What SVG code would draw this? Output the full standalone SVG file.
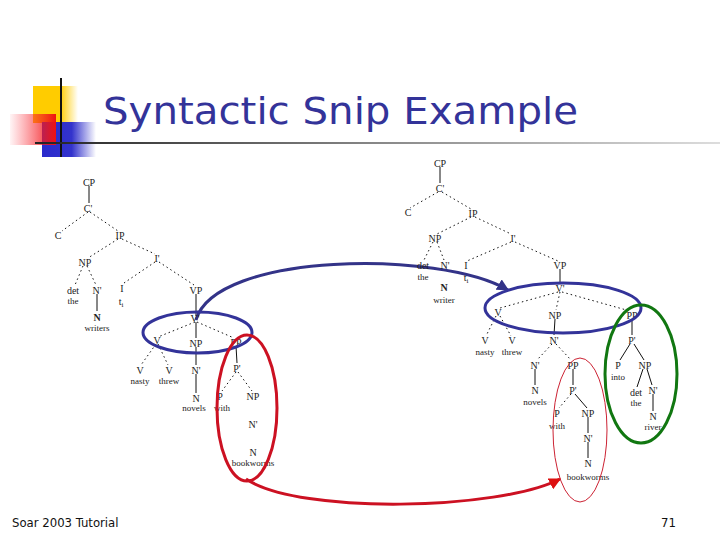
<svg xmlns="http://www.w3.org/2000/svg" width="720" height="540" viewBox="0 0 720 540">
<defs>
<linearGradient id="gy" x1="0" y1="0" x2="1" y2="0"><stop offset="0" stop-color="#ffcc00"/><stop offset="0.6" stop-color="#ffcc00"/><stop offset="1" stop-color="#ffcc00" stop-opacity="0"/></linearGradient>
<linearGradient id="gr" x1="0" y1="0" x2="1" y2="0"><stop offset="0" stop-color="#ff3344" stop-opacity="0.05"/><stop offset="1" stop-color="#ee1111"/></linearGradient>
<linearGradient id="gb" x1="0" y1="0" x2="1" y2="0"><stop offset="0" stop-color="#2a2acc"/><stop offset="0.55" stop-color="#3333cc"/><stop offset="1" stop-color="#3333cc" stop-opacity="0"/></linearGradient>
<linearGradient id="gl" x1="0" y1="0" x2="1" y2="0"><stop offset="0" stop-color="#222222"/><stop offset="0.5" stop-color="#888888"/><stop offset="1" stop-color="#dddddd"/></linearGradient>
<marker id="ab" viewBox="0 0 10 10" refX="9" refY="5" markerWidth="4" markerHeight="4" orient="auto"><path d="M0,0 L10,5 L0,10 z" fill="#333388"/></marker>
<marker id="ar" viewBox="0 0 10 10" refX="9" refY="5" markerWidth="4" markerHeight="4" orient="auto"><path d="M0,0 L10,5 L0,10 z" fill="#dd1111"/></marker>
</defs>
<style>
.t{font-family:"Liberation Serif",serif;font-size:10px;text-anchor:middle;fill:#222}
.w{font-family:"Liberation Serif",serif;font-size:9px;text-anchor:middle;fill:#222}
.b{font-weight:bold}
.s{stroke:#111;stroke-width:1;fill:none}
.d{stroke:#111;stroke-width:1;fill:none;stroke-dasharray:1.5,3}
</style>
<rect width="720" height="540" fill="#ffffff"/>
<g id="deco">
<rect x="33" y="86" width="45" height="37" fill="url(#gy)"/>
<rect x="42" y="122" width="54" height="35" fill="url(#gb)"/>
<rect x="10" y="114" width="46" height="31" fill="url(#gr)"/>
<line x1="61" y1="78" x2="61" y2="157" stroke="#111" stroke-width="2"/>
<rect x="35" y="142" width="685" height="2" fill="url(#gl)"/>
</g>
<text id="title" x="103" y="124" font-family="DejaVu Sans, sans-serif" font-size="38" fill="#333399" textLength="475" lengthAdjust="spacingAndGlyphs">Syntactic Snip Example</text>
<g id="connectors">
<line class="s" x1="89" y1="186" x2="89" y2="203"/>
<line class="d" x1="88" y1="212" x2="62" y2="231"/>
<line class="d" x1="90" y1="212" x2="118" y2="231"/>
<line class="d" x1="118" y1="239" x2="88" y2="258"/>
<line class="d" x1="122" y1="239" x2="155" y2="254"/>
<line class="d" x1="83" y1="266" x2="75" y2="285"/>
<line class="d" x1="87" y1="266" x2="96" y2="285"/>
<line class="s" x1="97" y1="294" x2="97" y2="311"/>
<line class="d" x1="155" y1="262" x2="124" y2="283"/>
<line class="d" x1="159" y1="262" x2="194" y2="285"/>
<line class="s" x1="196" y1="294" x2="196" y2="316"/>
<line class="d" x1="195" y1="322" x2="158" y2="337"/>
<line class="s" x1="196" y1="322" x2="196" y2="338"/>
<line class="d" x1="197" y1="322" x2="234" y2="338"/>
<line class="d" x1="156" y1="344" x2="141" y2="365"/>
<line class="d" x1="158" y1="344" x2="168" y2="365"/>
<line class="s" x1="196" y1="347" x2="196" y2="365"/>
<line class="s" x1="196" y1="374" x2="196" y2="393"/>
<line class="s" x1="236" y1="346" x2="237" y2="363"/>
<line class="d" x1="236" y1="372" x2="222" y2="391"/>
<line class="d" x1="238" y1="372" x2="252" y2="391"/>
<line class="s" x1="440" y1="167" x2="440" y2="183"/>
<line class="d" x1="438" y1="192" x2="410" y2="208"/>
<line class="d" x1="442" y1="192" x2="471" y2="209"/>
<line class="d" x1="471" y1="217" x2="437" y2="234"/>
<line class="d" x1="475" y1="217" x2="511" y2="234"/>
<line class="d" x1="433" y1="242" x2="424" y2="260"/>
<line class="d" x1="437" y1="242" x2="444" y2="260"/>
<line class="d" x1="511" y1="242" x2="467" y2="261"/>
<line class="d" x1="515" y1="242" x2="558" y2="261"/>
<line class="s" x1="560" y1="269" x2="560" y2="284"/>
<line class="d" x1="558" y1="292" x2="500" y2="308"/>
<line class="d" x1="560" y1="292" x2="556" y2="310"/>
<line class="d" x1="562" y1="292" x2="630" y2="311"/>
<line class="d" x1="496" y1="316" x2="486" y2="336"/>
<line class="d" x1="500" y1="316" x2="511" y2="336"/>
<line class="s" x1="555" y1="319" x2="554" y2="335"/>
<line class="d" x1="552" y1="344" x2="537" y2="360"/>
<line class="d" x1="556" y1="344" x2="571" y2="360"/>
<line class="s" x1="535" y1="369" x2="535" y2="385"/>
<line class="s" x1="573" y1="369" x2="573" y2="385"/>
<line class="d" x1="571" y1="394" x2="559" y2="408"/>
<line class="s" x1="575" y1="394" x2="587" y2="408"/>
<line class="s" x1="588" y1="417" x2="588" y2="433"/>
<line class="s" x1="588" y1="442" x2="588" y2="458"/>
<line class="s" x1="632" y1="319" x2="632" y2="335"/>
<line class="s" x1="630" y1="344" x2="620" y2="360"/>
<line class="s" x1="634" y1="344" x2="644" y2="360"/>
<line class="s" x1="643" y1="369" x2="637" y2="387"/>
<line class="s" x1="647" y1="369" x2="652" y2="385"/>
<line class="s" x1="653" y1="394" x2="653" y2="411"/>
<path d="M196,320 C215,252 440,250 508,290" fill="none" stroke="#333388" stroke-width="3" marker-end="url(#ab)"/>
<path d="M246,479 C300,515 500,510 560,479" fill="none" stroke="#cc1122" stroke-width="3" marker-end="url(#ar)"/>
</g>
<g id="left-tree">
<text class="t" x="89" y="186">CP</text>
<text class="t" x="88" y="212">C'</text>
<text class="t" x="58" y="239">C</text>
<text class="t" x="120" y="239">IP</text>
<text class="t" x="85" y="266">NP</text>
<text class="t" x="157" y="262">I'</text>
<text class="t" x="73" y="294">det</text>
<text class="w" x="73" y="304">the</text>
<text class="t" x="97" y="294">N'</text>
<text class="t b" x="97" y="321">N</text>
<text class="w" x="97" y="331">writers</text>
<text class="t" x="122" y="292">I</text>
<text class="t" x="121" y="305">t<tspan font-size="7" dy="2">i</tspan></text>
<text class="t" x="196" y="294">VP</text>
<text class="t" x="195" y="322">V'</text>
<text class="t" x="157" y="344">V</text>
<text class="t" x="196" y="347">NP</text>
<text class="t" x="236" y="346">PP</text>
<text class="t" x="140" y="374">V</text>
<text class="w" x="140" y="384">nasty</text>
<text class="t" x="169" y="374">V</text>
<text class="w" x="169" y="384">threw</text>
<text class="t" x="196" y="374">N'</text>
<text class="t" x="196" y="402">N</text>
<text class="w" x="194" y="411">novels</text>
<text class="t" x="237" y="372">P'</text>
<text class="t" x="220" y="400">P</text>
<text class="w" x="222" y="411">with</text>
<text class="t" x="253" y="400">NP</text>
<text class="t" x="253" y="428">N'</text>
<text class="t" x="253" y="456">N</text>
<text class="w" x="253" y="466">bookworms</text>
</g>
<g id="right-tree">
<text class="t" x="440" y="167">CP</text>
<text class="t" x="440" y="192">C'</text>
<text class="t" x="408" y="216">C</text>
<text class="t" x="473" y="217">IP</text>
<text class="t" x="435" y="242">NP</text>
<text class="t" x="513" y="242">I'</text>
<text class="t" x="423" y="269">det</text>
<text class="w" x="423" y="280">the</text>
<text class="t" x="445" y="269">N'</text>
<text class="t" x="466" y="269">I</text>
<text class="t" x="466" y="281">t<tspan font-size="7" dy="2">i</tspan></text>
<text class="t" x="560" y="269">VP</text>
<text class="t b" x="444" y="291">N</text>
<text class="w" x="444" y="303">writer</text>
<text class="t" x="560" y="292">V'</text>
<text class="t" x="498" y="316">V</text>
<text class="t" x="555" y="319">NP</text>
<text class="t" x="632" y="319">PP</text>
<text class="t" x="485" y="344">V</text>
<text class="w" x="485" y="355">nasty</text>
<text class="t" x="512" y="344">V</text>
<text class="w" x="512" y="355">threw</text>
<text class="t" x="554" y="344">N'</text>
<text class="t" x="632" y="344">P'</text>
<text class="t" x="535" y="369">N'</text>
<text class="t" x="573" y="369">PP</text>
<text class="t" x="618" y="369">P</text>
<text class="w" x="618" y="380">into</text>
<text class="t" x="645" y="369">NP</text>
<text class="t" x="535" y="394">N</text>
<text class="w" x="535" y="405">novels</text>
<text class="t" x="573" y="394">P'</text>
<text class="t" x="636" y="396">det</text>
<text class="w" x="636" y="406">the</text>
<text class="t" x="653" y="394">N'</text>
<text class="t" x="557" y="417">P</text>
<text class="w" x="557" y="429">with</text>
<text class="t" x="588" y="417">NP</text>
<text class="t" x="653" y="420">N</text>
<text class="w" x="653" y="430">river</text>
<text class="t" x="588" y="442">N'</text>
<text class="t" x="588" y="467">N</text>
<text class="w" x="588" y="480">bookworms</text>
</g>
<g id="highlights">
<ellipse cx="197.5" cy="332.5" rx="54.5" ry="20.5" fill="none" stroke="#333399" stroke-width="3"/>
<ellipse cx="247" cy="408" rx="30" ry="73" fill="none" stroke="#cc1122" stroke-width="3"/>
<ellipse cx="563" cy="308" rx="78" ry="25" fill="none" stroke="#333399" stroke-width="3"/>
<ellipse cx="641" cy="374" rx="36" ry="69" fill="none" stroke="#117711" stroke-width="3"/>
<ellipse cx="580" cy="430" rx="27" ry="72" fill="none" stroke="#cc2233" stroke-width="1"/>
</g>
<text id="footer" x="12" y="527" font-family="DejaVu Sans Condensed, DejaVu Sans, sans-serif" font-size="13" fill="#111">Soar 2003 Tutorial</text>
<text id="page" x="676" y="527" font-family="DejaVu Sans Condensed, DejaVu Sans, sans-serif" font-size="13" fill="#111" text-anchor="end">71</text>
</svg>
